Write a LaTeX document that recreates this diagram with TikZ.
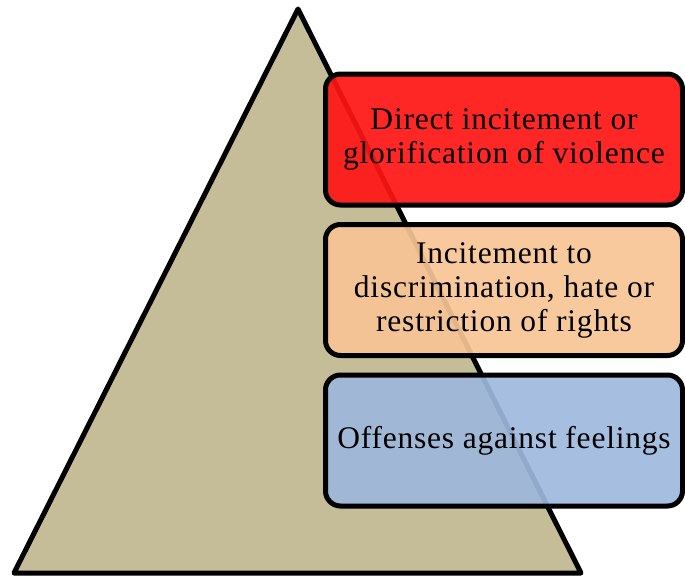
\documentclass[tikz,border=0pt]{standalone}
\usepackage{fontspec}
\setmainfont{Liberation Serif}[LetterSpace=2.5]
\usepackage{xcolor}
\definecolor{pyrfill}{RGB}{196,189,151}
\definecolor{topred}{RGB}{255,20,20}
\definecolor{midpeach}{RGB}{248,196,150}
\definecolor{lowblue}{RGB}{158,184,220}

\begin{document}
\begin{tikzpicture}[x=1pt,y=-1pt,
    level/.style={draw,line width=5pt,rounded corners=15pt,fill opacity=0.92,
      text opacity=1,minimum width=357pt,minimum height=131pt,align=center,
      font=\fontsize{31.5}{34}\selectfont,inner sep=0pt}]
\useasboundingbox (0,0) rectangle (685,578);
\draw [line width=5pt,line join=round,fill=pyrfill]
    (298,9) coordinate (apex) -- (581,573) coordinate (bright)
    -- (14,573) coordinate (bleft) -- cycle;
\path
    (504,139.5) node [level,fill=topred] (violence)
      {Direct incitement or\\glorification of violence}
    (504,290) node [level,fill=midpeach] (hate)
      {Incitement to\\discrimination, hate or\\restriction of rights}
    (504,440.5) node [level,fill=lowblue] (feelings)
      {Offenses against feelings};
\end{tikzpicture}
\end{document}
